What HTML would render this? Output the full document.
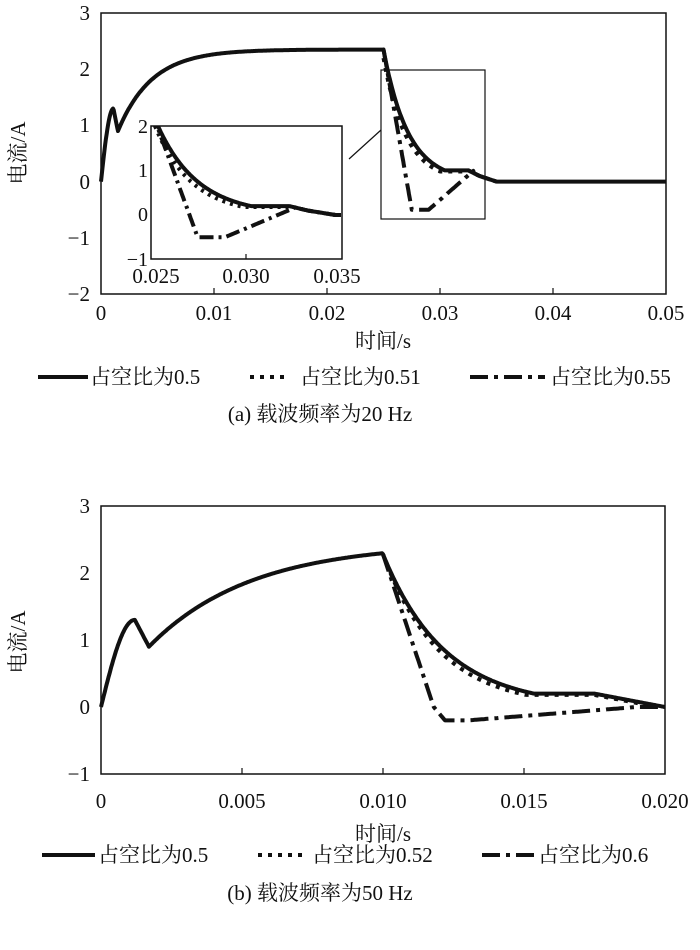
<!DOCTYPE html>
<html><head><meta charset="utf-8"><style>
body{margin:0;background:#fff;}
svg{display:block;font-family:"Liberation Serif","Noto Serif CJK SC",serif;}
text{fill:#111;}
</style></head><body>
<svg id="s" width="700" height="950" viewBox="0 0 700 950" xmlns="http://www.w3.org/2000/svg">
<defs><clipPath id="ic"><rect x="151" y="126" width="191" height="133"/></clipPath></defs>
<g font-size="21" text-anchor="middle">
<rect x="101" y="13" width="565" height="281" fill="none" stroke="#111" stroke-width="1.5"/>
<text x="90" y="20" text-anchor="end">3</text>
<text x="90" y="76" text-anchor="end">2</text>
<text x="90" y="132" text-anchor="end">1</text>
<text x="90" y="189" text-anchor="end">0</text>
<text x="90" y="245" text-anchor="end">−1</text>
<text x="90" y="301" text-anchor="end">−2</text>
<text x="101" y="320">0</text><text x="214" y="320">0.01</text><text x="327" y="320">0.02</text><text x="440" y="320">0.03</text><text x="553" y="320">0.04</text><text x="666" y="320">0.05</text>
<text x="383" y="348">时间/s</text>
<text transform="translate(25,153) rotate(-90)">电流/A</text>
<rect x="101" y="506" width="564" height="268" fill="none" stroke="#111" stroke-width="1.5"/>
<text x="90" y="513" text-anchor="end">3</text>
<text x="90" y="580" text-anchor="end">2</text>
<text x="90" y="647" text-anchor="end">1</text>
<text x="90" y="714" text-anchor="end">0</text>
<text x="90" y="781" text-anchor="end">−1</text>
<text x="101" y="808">0</text><text x="242" y="808">0.005</text><text x="383" y="808">0.010</text><text x="524" y="808">0.015</text><text x="665" y="808">0.020</text>
<text x="383" y="841">时间/s</text>
<text transform="translate(25,642) rotate(-90)">电流/A</text>
<text x="90" y="384" text-anchor="start">占空比为0.5</text>
<text x="300" y="384" text-anchor="start">占空比为0.51</text>
<text x="550" y="384" text-anchor="start">占空比为0.55</text>
<text x="320" y="421">(a) 载波频率为20 Hz</text>
<text x="98" y="862" text-anchor="start">占空比为0.5</text>
<text x="312" y="862" text-anchor="start">占空比为0.52</text>
<text x="538" y="862" text-anchor="start">占空比为0.6</text>
<text x="320" y="900">(b) 载波频率为50 Hz</text>
</g>
<g stroke="#111" stroke-width="1.2">
<line x1="214" y1="294" x2="214" y2="288"/><line x1="327" y1="294" x2="327" y2="288"/><line x1="440" y1="294" x2="440" y2="288"/><line x1="553" y1="294" x2="553" y2="288"/>
<line x1="242" y1="774" x2="242" y2="768"/><line x1="383" y1="774" x2="383" y2="768"/><line x1="524" y1="774" x2="524" y2="768"/>
</g>
<g stroke="#111" stroke-width="4" fill="none">
<line x1="38" y1="377" x2="88" y2="377"/>
<line x1="250" y1="377" x2="290" y2="377" stroke-dasharray="4 6"/>
<line x1="470" y1="377" x2="545" y2="377" stroke-dasharray="18 6 4 6"/>
<line x1="42" y1="855" x2="95" y2="855"/>
<line x1="258" y1="855" x2="305" y2="855" stroke-dasharray="4 6"/>
<line x1="482" y1="855" x2="535" y2="855" stroke-dasharray="18 6 4 6"/>
</g>
<g id="plots"></g>
<rect x="151" y="126" width="191" height="133" fill="#fff" stroke="#111" stroke-width="1.5"/>
<g stroke="#111" stroke-width="1.2"><line x1="246" y1="259" x2="246" y2="254"/></g>
<g font-size="20" text-anchor="end">
<text x="148" y="133">2</text><text x="148" y="177">1</text><text x="148" y="221">0</text><text x="148" y="266">−1</text>
</g>
<g font-size="21" text-anchor="middle">
<text x="156" y="283">0.025</text><text x="246" y="283">0.030</text><text x="337" y="283">0.035</text>
</g>
<g id="inset" clip-path="url(#ic)"></g>
<rect x="381" y="70" width="104" height="149" fill="none" stroke="#111" stroke-width="1.2"/>
<line x1="349" y1="159" x2="381" y2="130" stroke="#111" stroke-width="1.2"/>
</svg>
<script>
function solidA(t){
 if(t<0.0011) return 1.3*Math.sin(Math.PI/2*t/0.0011);
 if(t<0.0015) return 1.3-0.4*(t-0.0011)/0.0004;
 if(t<0.025){return 2.35-(2.35-0.9)*Math.exp(-(t-0.0015)/0.003);}
 var d=t-0.025;
 if(t<0.0325) return Math.max(0.2,2.35*Math.exp(-d/0.0022));
 if(t<0.0335) return 0.2-0.1*(t-0.0325)/0.001;
 if(t<0.035) return 0.1*(1-(t-0.0335)/0.0015);
 return 0;
}
function dotA(t){ if(t<0.025) return solidA(t); var d=t-0.025; if(t<0.0325) return Math.max(0.18,2.2*Math.exp(-d/0.002)); return solidA(t);}
function dashA(t){ if(t<0.025) return solidA(t);
 if(t<0.0275) return 2.35-2.85*(t-0.025)/0.0025;
 if(t<0.029) return -0.5;
 if(t<0.033) return -0.5+0.7*(t-0.029)/0.004;
 return solidA(t);}
function solidB(t){
 if(t<0.0012) return 1.3*Math.sin(Math.PI/2*t/0.0012);
 if(t<0.0017) return 1.3-0.4*(t-0.0012)/0.0005;
 if(t<0.01) return 2.45-(2.45-0.9)*Math.exp(-(t-0.0017)/0.0036);
 var v0=2.28;
 if(t<0.016) return Math.max(0.2,v0*Math.exp(-(t-0.01)/0.0022));
 if(t<0.0175) return 0.2;
 return 0.2*(1-(t-0.0175)/0.0025);
}
function dotB(t){ if(t<0.01) return solidB(t); if(t<0.016) return Math.max(0.18,2.28*Math.exp(-(t-0.01)/0.002)); return Math.max(0,solidB(t)-0.02);}
function dashB(t){ if(t<0.01) return solidB(t); var v0=2.28;
 if(t<0.0118) return v0*(1-(t-0.01)/0.0018);
 if(t<0.0122) return -0.2*(t-0.0118)/0.0004;
 if(t<0.013) return -0.2;
 if(t<0.019) return -0.2+0.2*(t-0.013)/0.006; return 0;}
function path(f,t0,t1,x0,x1,ya,yscale,n){
 var d="";for(var i=0;i<=n;i++){var t=t0+(t1-t0)*i/n;var x=x0+(x1-x0)*i/n;var y=ya-f(t)*yscale;d+=(i?"L":"M")+x.toFixed(1)+" "+y.toFixed(1);}return d;}
var NS="http://www.w3.org/2000/svg";
function add(g,d,dash){var p=document.createElementNS(NS,"path");p.setAttribute("d",d);p.setAttribute("fill","none");p.setAttribute("stroke","#111");p.setAttribute("stroke-width","4");p.setAttribute("stroke-linejoin","round");if(dash)p.setAttribute("stroke-dasharray",dash);document.getElementById(g).appendChild(p);}
add("plots",path(dashA,0.025,0.035,383.5,496.5,181.6,56.2,200),"18 6 4 6");
add("plots",path(dotA,0.025,0.035,383.5,496.5,181.6,56.2,200),"4 6");
add("plots",path(solidA,0,0.05,101,666,181.6,56.2,800),null);
add("inset",path(dashA,0.02502,0.0353,152,341,215,44.3,200),"14 5 3 5");
add("inset",path(dotA,0.02502,0.0353,152,341,215,44.3,200),"3 5");
add("inset",path(solidA,0.02502,0.0353,152,341,215,44.3,200),null);
add("plots",path(dashB,0.01,0.02,383,665,707,67,200),"18 6 4 6");
add("plots",path(dotB,0.01,0.02,383,665,707,67,200),"4 6");
add("plots",path(solidB,0,0.02,101,665,707,67,600),null);
</script>
</body></html>
